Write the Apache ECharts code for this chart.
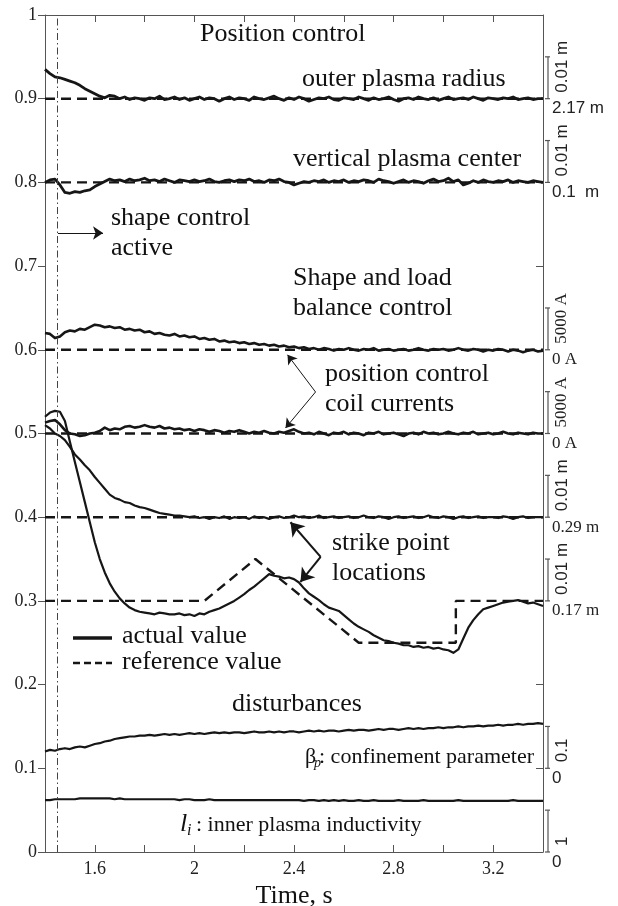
<!DOCTYPE html>
<html>
<head>
<meta charset="utf-8">
<title>Position control</title>
<script src="https://cdn.jsdelivr.net/npm/echarts@6/dist/echarts.min.js"></script>
<style>
  html, body { margin: 0; padding: 0; background: #fff; }
  #chart { width: 618px; height: 906px; }
</style>
</head>
<body>
<div id="chart"></div>
<script>
// ---- time base (s) ----
const X_MIN = 1.4, X_MAX = 3.4;
const times = [
  1.40,1.42,1.44,1.46,1.48,1.50,1.52,1.54,1.56,1.58,
  1.60,1.62,1.64,1.66,1.68,1.70,1.72,1.74,1.76,1.78,
  1.80,1.82,1.84,1.86,1.88,1.90,1.92,1.94,1.96,1.98,
  2.00,2.02,2.04,2.06,2.08,2.10,2.12,2.14,2.16,2.18,
  2.20,2.22,2.24,2.26,2.28,2.30,2.32,2.34,2.36,2.38,
  2.40,2.42,2.44,2.46,2.48,2.50,2.52,2.54,2.56,2.58,
  2.60,2.62,2.64,2.66,2.68,2.70,2.72,2.74,2.76,2.78,
  2.80,2.82,2.84,2.86,2.88,2.90,2.92,2.94,2.96,2.98,
  3.00,3.02,3.04,3.06,3.08,3.10,3.12,3.14,3.16,3.18,
  3.20,3.22,3.24,3.26,3.28,3.30,3.32,3.34,3.36,3.38,
  3.40
];

// ---- measured traces (offset to their plotting band) ----
const outerRadius = [
  0.935,0.930,0.926,0.925,0.923,0.921,0.919,0.916,0.912,0.909,
  0.906,0.903,0.901,0.904,0.903,0.900,0.902,0.899,0.901,0.900,
  0.898,0.901,0.900,0.903,0.899,0.900,0.902,0.899,0.901,0.898,
  0.900,0.902,0.899,0.901,0.900,0.897,0.900,0.902,0.899,0.901,
  0.900,0.898,0.902,0.900,0.899,0.901,0.903,0.900,0.898,0.901,
  0.899,0.902,0.900,0.897,0.899,0.901,0.900,0.902,0.899,0.898,
  0.901,0.900,0.899,0.902,0.900,0.898,0.901,0.899,0.900,0.902,
  0.899,0.897,0.900,0.901,0.899,0.902,0.900,0.899,0.901,0.898,
  0.900,0.902,0.899,0.900,0.901,0.899,0.902,0.900,0.898,0.901,
  0.900,0.899,0.901,0.900,0.902,0.899,0.900,0.901,0.899,0.900,
  0.900
];
const verticalCenter = [
  0.800,0.803,0.804,0.797,0.788,0.787,0.789,0.788,0.790,0.791,
  0.795,0.798,0.801,0.804,0.802,0.803,0.801,0.804,0.802,0.803,
  0.805,0.802,0.803,0.801,0.804,0.802,0.800,0.803,0.802,0.801,
  0.803,0.801,0.802,0.804,0.801,0.800,0.802,0.803,0.801,0.803,
  0.802,0.804,0.801,0.802,0.800,0.803,0.802,0.804,0.801,0.800,
  0.797,0.799,0.801,0.800,0.802,0.801,0.803,0.800,0.802,0.801,
  0.803,0.800,0.802,0.801,0.803,0.802,0.800,0.804,0.802,0.801,
  0.799,0.801,0.803,0.800,0.802,0.801,0.799,0.802,0.804,0.801,
  0.802,0.805,0.801,0.803,0.797,0.799,0.802,0.800,0.803,0.801,
  0.800,0.802,0.801,0.803,0.800,0.802,0.801,0.800,0.802,0.801,
  0.800
];
const coilCurrent1 = [
  0.620,0.619,0.614,0.616,0.621,0.623,0.622,0.625,0.624,0.627,
  0.630,0.629,0.627,0.628,0.626,0.627,0.624,0.625,0.623,0.624,
  0.621,0.622,0.619,0.620,0.618,0.617,0.619,0.616,0.617,0.615,
  0.616,0.613,0.614,0.612,0.613,0.610,0.611,0.609,0.610,0.608,
  0.609,0.607,0.608,0.606,0.607,0.605,0.606,0.604,0.605,0.603,
  0.604,0.602,0.603,0.601,0.602,0.600,0.602,0.601,0.599,0.601,
  0.600,0.602,0.600,0.599,0.601,0.600,0.602,0.599,0.600,0.601,
  0.599,0.600,0.601,0.599,0.600,0.602,0.600,0.599,0.601,0.600,
  0.601,0.599,0.600,0.602,0.600,0.599,0.601,0.600,0.598,0.600,
  0.599,0.601,0.600,0.598,0.600,0.599,0.597,0.599,0.600,0.598,
  0.599
];
const coilCurrent2 = [
  0.513,0.515,0.516,0.511,0.504,0.500,0.499,0.497,0.498,0.500,
  0.501,0.503,0.507,0.504,0.506,0.505,0.508,0.509,0.507,0.508,
  0.510,0.508,0.507,0.509,0.506,0.507,0.505,0.506,0.504,0.505,
  0.503,0.505,0.504,0.502,0.504,0.503,0.501,0.503,0.502,0.504,
  0.502,0.500,0.502,0.501,0.503,0.501,0.500,0.502,0.501,0.503,
  0.505,0.502,0.500,0.501,0.499,0.502,0.500,0.498,0.501,0.500,
  0.502,0.499,0.501,0.500,0.498,0.501,0.500,0.502,0.499,0.500,
  0.501,0.499,0.497,0.500,0.501,0.499,0.502,0.500,0.501,0.499,
  0.500,0.502,0.500,0.499,0.501,0.500,0.502,0.499,0.500,0.501,
  0.499,0.500,0.502,0.500,0.499,0.501,0.500,0.499,0.501,0.500,
  0.500
];
const strikePoint1 = [
  0.510,0.506,0.500,0.497,0.492,0.484,0.475,0.469,0.462,0.456,
  0.448,0.441,0.434,0.427,0.423,0.421,0.418,0.417,0.414,0.412,
  0.411,0.409,0.407,0.405,0.404,0.403,0.402,0.402,0.401,0.400,
  0.401,0.399,0.400,0.398,0.400,0.399,0.401,0.398,0.400,0.399,
  0.400,0.398,0.401,0.399,0.400,0.398,0.400,0.401,0.399,0.400,
  0.402,0.400,0.401,0.399,0.400,0.402,0.399,0.400,0.401,0.399,
  0.400,0.401,0.399,0.400,0.402,0.400,0.399,0.401,0.400,0.398,
  0.400,0.401,0.399,0.400,0.401,0.399,0.400,0.402,0.400,0.399,
  0.401,0.400,0.398,0.400,0.401,0.399,0.400,0.401,0.399,0.400,
  0.400,0.399,0.401,0.400,0.398,0.400,0.401,0.399,0.400,0.400,
  0.400
];
const strikePoint2 = [
  0.520,0.525,0.527,0.526,0.515,0.490,0.466,0.442,0.418,0.394,
  0.370,0.350,0.334,0.321,0.311,0.303,0.297,0.292,0.289,0.287,
  0.286,0.285,0.284,0.286,0.285,0.284,0.284,0.285,0.283,0.284,
  0.282,0.285,0.284,0.287,0.289,0.291,0.294,0.297,0.300,0.304,
  0.308,0.313,0.317,0.322,0.327,0.332,0.330,0.329,0.327,0.328,
  0.326,0.322,0.315,0.309,0.305,0.301,0.296,0.292,0.290,0.288,
  0.283,0.278,0.273,0.269,0.266,0.263,0.259,0.256,0.253,0.252,
  0.250,0.249,0.247,0.247,0.245,0.246,0.244,0.245,0.243,0.244,
  0.242,0.241,0.238,0.242,0.255,0.268,0.277,0.284,0.290,0.292,
  0.294,0.296,0.298,0.299,0.300,0.301,0.299,0.297,0.298,0.296,
  0.294
];
const betaP = [
  0.120,0.122,0.121,0.123,0.124,0.123,0.125,0.126,0.125,0.127,
  0.129,0.130,0.132,0.133,0.135,0.136,0.137,0.138,0.138,0.139,
  0.139,0.140,0.139,0.140,0.141,0.140,0.141,0.140,0.141,0.142,
  0.141,0.142,0.141,0.142,0.143,0.142,0.143,0.142,0.143,0.143,
  0.142,0.143,0.144,0.143,0.143,0.144,0.143,0.144,0.143,0.144,
  0.144,0.143,0.144,0.145,0.144,0.145,0.144,0.145,0.145,0.144,
  0.145,0.146,0.145,0.146,0.146,0.145,0.146,0.147,0.146,0.147,
  0.147,0.146,0.147,0.148,0.147,0.148,0.147,0.148,0.148,0.149,
  0.148,0.149,0.149,0.150,0.149,0.150,0.150,0.151,0.150,0.151,
  0.151,0.152,0.151,0.152,0.152,0.153,0.152,0.153,0.153,0.154,
  0.153
];
const innerInductivity = [
  0.062,0.062,0.063,0.063,0.063,0.063,0.063,0.064,0.064,0.064,
  0.064,0.064,0.064,0.064,0.063,0.064,0.063,0.063,0.063,0.063,
  0.063,0.063,0.063,0.063,0.063,0.063,0.063,0.062,0.063,0.063,
  0.062,0.062,0.062,0.063,0.062,0.062,0.062,0.062,0.062,0.062,
  0.062,0.062,0.062,0.062,0.062,0.062,0.062,0.062,0.062,0.062,
  0.062,0.062,0.061,0.062,0.062,0.061,0.062,0.061,0.062,0.061,
  0.062,0.061,0.061,0.062,0.061,0.061,0.062,0.061,0.061,0.061,
  0.061,0.062,0.061,0.061,0.061,0.061,0.062,0.061,0.061,0.061,
  0.061,0.061,0.061,0.062,0.061,0.061,0.061,0.061,0.061,0.061,
  0.061,0.061,0.061,0.061,0.062,0.061,0.061,0.061,0.061,0.061,
  0.061
];

// ---- reference values ----
const referenceLevels = [0.9, 0.8, 0.6, 0.5, 0.4];
const strikeRefTimes  = [1.40, 2.04, 2.245, 2.66, 3.05, 3.05, 3.40];
const strikeRefValues = [0.30, 0.30, 0.35,  0.25, 0.25, 0.30, 0.30];

// ---- tick labels ----
const xTickValues = [1.6, 2.0, 2.4, 2.8, 3.2];
const xTickLabels = ['1.6', '2', '2.4', '2.8', '3.2'];
const yTickLabels = ['0','0.1','0.2','0.3','0.4','0.5','0.6','0.7','0.8','0.9','1'];

// ---- right-hand scale bars: band base, band top, unit text, base text ----
const barLow   = [0.9, 0.8, 0.6, 0.5, 0.4, 0.3, 0.1, 0.0];
const barHigh  = [0.95, 0.85, 0.65, 0.55, 0.45, 0.35, 0.15, 0.05];
const barUnit  = ['0.01 m', '0.01 m', '5000 A', '5000 A', '0.01 m', '0.01 m', '0.1', '1'];
const barBase  = ['2.17 m', '0.1  m', '0 A', '0 A', '0.29 m', '0.17 m', '0', '0'];

// ---- annotation arrows in (time, value) ----
const shapeArrow = [[1.452, 0.7395], [1.633, 0.7395]];
const coilArrows = [[[2.4865, 0.5496], [2.374, 0.594]], [[2.4865, 0.5496], [2.366, 0.5066]]];
const strikeArrows = [[[2.507, 0.3525], [2.386, 0.394]], [[2.507, 0.3525], [2.426, 0.3226]]];
const shapeControlStart = 1.452;

const SERIF = '"Liberation Serif", "Times New Roman", serif';
const SANS = '"Liberation Sans", Arial, sans-serif';
const INK = '#161616';

const pairs = vals => times.map((t, i) => [t, vals[i]]);
const flat = level => [[X_MIN, level], [X_MAX, level]];

const refStyle = { color: INK, width: 2.4, type: [10, 6] };

function refSeries(data) {
  return { type: 'line', data, symbol: 'none', silent: true, lineStyle: refStyle, z: 2 };
}
function traceSeries(data, width) {
  return { type: 'line', data, symbol: 'none', silent: true,
           lineStyle: { color: INK, width: width, join: 'round' }, z: 3 };
}
function arrowSeries(paths, width, head) {
  return {
    type: 'line', data: [], silent: true, z: 4,
    markLine: {
      silent: true, symbol: ['none', 'arrow'], symbolSize: head,
      label: { show: false },
      lineStyle: { color: INK, width: width, type: 'solid' },
      emphasis: { disabled: true },
      data: paths.map(p => [{ coord: p[0] }, { coord: p[1] }])
    }
  };
}

const chart = echarts.init(document.getElementById('chart'), null, { renderer: 'canvas' });

const axisLineStyle = { color: '#555', width: 1 };

const option = {
  animation: false,
  backgroundColor: '#fff',
  grid: { left: 45, right: 75, top: 15, bottom: 54, containLabel: false, outerBoundsMode: 'none' },
  xAxis: [
    {
      type: 'value', min: X_MIN, max: X_MAX, interval: 0.2, position: 'bottom',
      axisLine: { onZero: false, lineStyle: axisLineStyle },
      axisTick: { inside: true, length: 7, lineStyle: axisLineStyle },
      splitLine: { show: false },
      axisLabel: {
        margin: 8, fontFamily: SERIF, fontSize: 18, color: '#222',
        formatter: v => {
          const k = xTickValues.findIndex(t => Math.abs(t - v) < 1e-6);
          return k >= 0 ? xTickLabels[k] : '';
        }
      },
      name: 'Time, s', nameLocation: 'middle', nameGap: 20,
      nameTextStyle: { fontFamily: SERIF, fontSize: 26, color: '#111' }
    },
    {
      type: 'value', min: X_MIN, max: X_MAX, interval: 0.2, position: 'top',
      axisLine: { onZero: false, lineStyle: axisLineStyle },
      axisTick: { inside: true, length: 7, lineStyle: axisLineStyle },
      axisLabel: { show: false }, splitLine: { show: false }
    }
  ],
  yAxis: [
    {
      type: 'value', min: 0, max: 1, interval: 0.1, position: 'left',
      axisLine: { onZero: false, lineStyle: axisLineStyle },
      axisTick: { inside: false, length: 7, lineStyle: axisLineStyle },
      splitLine: { show: false },
      axisLabel: {
        margin: 8, fontFamily: SERIF, fontSize: 18, color: '#222',
        formatter: v => yTickLabels[Math.round(v * 10)]
      }
    },
    {
      type: 'value', min: 0, max: 1, interval: 0.1, position: 'right',
      axisLine: { onZero: false, lineStyle: axisLineStyle },
      axisTick: { inside: true, length: 7, lineStyle: axisLineStyle },
      axisLabel: { show: false }, splitLine: { show: false }
    }
  ],
  series: [
    ...referenceLevels.map(l => refSeries(flat(l))),
    refSeries(strikeRefTimes.map((t, i) => [t, strikeRefValues[i]])),
    traceSeries(pairs(outerRadius), 2.8),
    traceSeries(pairs(verticalCenter), 2.8),
    traceSeries(pairs(coilCurrent1), 2.6),
    traceSeries(pairs(coilCurrent2), 2.6),
    traceSeries(pairs(strikePoint1), 2.2),
    traceSeries(pairs(strikePoint2), 2.2),
    traceSeries(pairs(betaP), 2.2),
    traceSeries(pairs(innerInductivity), 2.2),
    // start of shape control
    {
      type: 'line', data: [], silent: true, z: 1,
      markLine: {
        silent: true, symbol: ['none', 'none'], label: { show: false },
        lineStyle: { color: '#444', width: 1, type: [7, 3, 1.5, 3] },
        data: [{ xAxis: shapeControlStart }]
      }
    },
    arrowSeries([shapeArrow], 1.2, 10),
    arrowSeries(coilArrows, 1, 9),
    arrowSeries(strikeArrows, 2, 13),
    // scale bars at the right border
    {
      type: 'custom', coordinateSystem: 'cartesian2d', clip: false, silent: true, z: 5,
      data: barLow.map((lo, i) => [X_MAX, lo, barHigh[i]]),
      encode: { x: 0, y: [1, 2] },
      renderItem: (params, api) => {
        const i = params.dataIndex;
        const lo = api.coord([api.value(0), api.value(1)]);
        const hi = api.coord([api.value(0), api.value(2)]);
        const x = lo[0] + 5;
        const st = { stroke: '#555', lineWidth: 1.2 };
        return {
          type: 'group',
          children: [
            { type: 'line', shape: { x1: x, y1: lo[1], x2: x, y2: hi[1] }, style: st },
            { type: 'line', shape: { x1: x - 3, y1: lo[1], x2: x + 2, y2: lo[1] }, style: st },
            { type: 'line', shape: { x1: x - 3, y1: hi[1], x2: x + 2, y2: hi[1] }, style: st },
            { type: 'text', x: x + 14, y: lo[1] - 6, rotation: Math.PI / 2,
              style: { text: barUnit[i], x: 0, y: 0, fill: '#222',
                       font: '17px ' + (i >= 2 && i <= 3 ? SERIF : SANS),
                       textAlign: 'left', textVerticalAlign: 'middle',
                       align: 'left', verticalAlign: 'middle' } },
            { type: 'text', x: x + 4, y: lo[1] + 10,
              style: { text: barBase[i], x: 0, y: 0, fill: '#222',
                       font: '17px ' + (i >= 2 && i <= 5 ? SERIF : SANS),
                       textAlign: 'left', textVerticalAlign: 'middle',
                       align: 'left', verticalAlign: 'middle' } }
          ]
        };
      }
    }
  ],
  graphic: [
    ...[
      ['Position control', 200, 34],
      ['outer plasma radius', 302, 79],
      ['vertical plasma center', 293, 159],
      ['shape control', 111, 218],
      ['active', 111, 248],
      ['Shape and load', 293, 278],
      ['balance control', 293, 308],
      ['position control', 325, 374],
      ['coil currents', 325, 404],
      ['strike point', 332, 543],
      ['locations', 332, 573],
      ['actual value', 122, 636],
      ['reference value', 122, 662],
      ['disturbances', 232, 704]
    ].map(([t, x, y]) => ({
      type: 'text', x, y, z: 10, silent: true,
      style: { text: t, font: '26px ' + SERIF, fill: '#111',
               textVerticalAlign: 'middle', verticalAlign: 'middle' }
    })),
    // legend samples
    { type: 'line', z: 10, silent: true, shape: { x1: 73, y1: 638, x2: 112, y2: 638 },
      style: { stroke: INK, lineWidth: 3.5 } },
    { type: 'line', z: 10, silent: true, shape: { x1: 73, y1: 663, x2: 112, y2: 663 },
      style: { stroke: INK, lineWidth: 2.5, lineDash: [7, 4] } },
    // beta_p label
    { type: 'text', x: 305, y: 757, z: 10, silent: true,
      style: { text: 'β', font: '22px ' + SERIF, fill: '#111', textVerticalAlign: 'middle', verticalAlign: 'middle' } },
    { type: 'text', x: 314, y: 763, z: 10, silent: true,
      style: { text: 'p', font: 'italic 14px ' + SERIF, fill: '#111', textVerticalAlign: 'middle', verticalAlign: 'middle' } },
    { type: 'text', x: 319, y: 757, z: 10, silent: true,
      style: { text: ': confinement parameter', font: '22px ' + SERIF, fill: '#111', textVerticalAlign: 'middle', verticalAlign: 'middle' } },
    // l_i label
    { type: 'text', x: 180, y: 824, z: 10, silent: true,
      style: { text: 'l', font: 'italic 26px ' + SERIF, fill: '#111', textVerticalAlign: 'middle', verticalAlign: 'middle' } },
    { type: 'text', x: 187, y: 831, z: 10, silent: true,
      style: { text: 'i', font: 'italic 16px ' + SERIF, fill: '#111', textVerticalAlign: 'middle', verticalAlign: 'middle' } },
    { type: 'text', x: 196, y: 825, z: 10, silent: true,
      style: { text: ': inner plasma inductivity', font: '22px ' + SERIF, fill: '#111', textVerticalAlign: 'middle', verticalAlign: 'middle' } }
  ]
};

chart.setOption(option);
</script>
</body>
</html>
